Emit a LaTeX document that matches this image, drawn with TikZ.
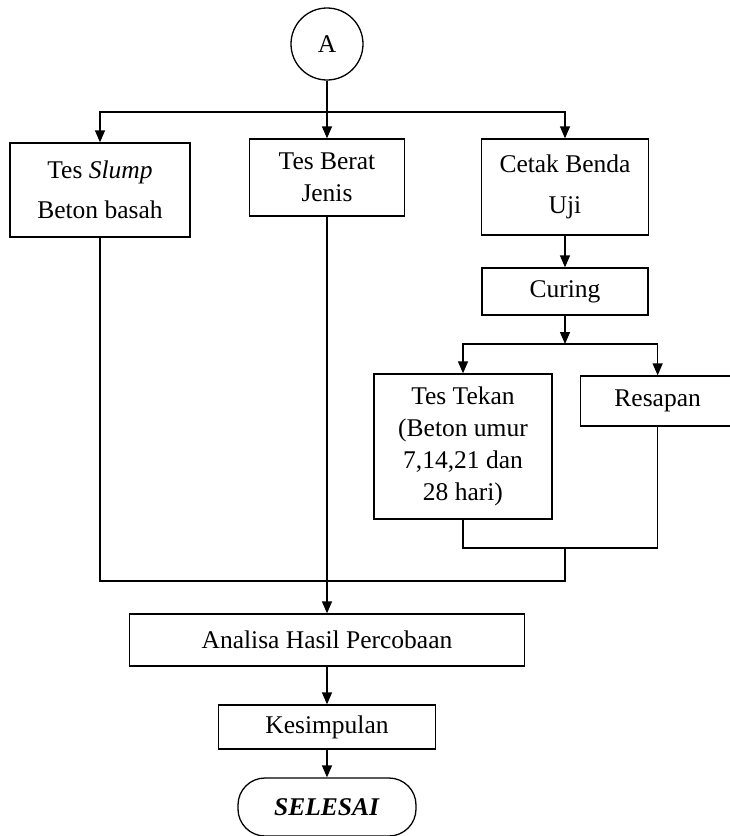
\documentclass[tikz,border=0pt]{standalone}
\usepackage{fontspec}
\setmainfont{Liberation Serif}
\usetikzlibrary{arrows.meta}
\begin{document}
\begin{tikzpicture}[x=1pt,y=-1pt,
  every node/.style={font=\fontsize{25.5}{32}\selectfont},
  box/.style={draw,line width=1.3pt,rectangle,inner sep=0pt,align=center},
  conn/.style={line width=1.3pt},
  arr/.style={conn,-{Triangle[length=12pt,width=10pt]}}]
\useasboundingbox (0,0) rectangle (730,836);
\node[draw,circle,line width=1.3pt,minimum size=72pt,inner sep=0pt] (A) at (327,44) {A};
\node[box,minimum width=180pt,minimum height=94pt] (slump) at (100,190) {Tes \textit{Slump}\\[8pt]Beton basah};
\node[box,minimum width=155pt,minimum height=77pt] (berat) at (327,177.5) {Tes Berat\\Jenis};
\node[box,minimum width=167pt,minimum height=96pt] (cetak) at (565,187) {Cetak Benda\\[9pt]Uji};
\node[box,minimum width=166pt,minimum height=47pt] (curing) at (565,291.5) {Curing};
\node[box,minimum width=178pt,minimum height=145pt] (tekan) at (463,446.5) {Tes Tekan\\(Beton umur\\7,14,21 dan\\28 hari)};
\node[box,minimum width=154pt,minimum height=50pt,anchor=west] (resapan) at (580,401) {Resapan};
\node[box,minimum width=395pt,minimum height=52pt] (analisa) at (327,640) {Analisa Hasil Percobaan};
\node[box,minimum width=217pt,minimum height=44pt] (kesimpulan) at (327,727) {Kesimpulan};
\node[draw,line width=1.3pt,rounded corners=27pt,minimum width=178pt,minimum height=58pt,inner sep=0pt] (selesai) at (327,807) {\textbf{\textit{SELESAI}}};
\coordinate (top) at (327,112);
\draw[conn] (A) -- (top);
\draw[arr] (top) -| (slump.north);
\draw[arr] (top) -- (berat);
\draw[arr] (top) -| (cetak.north);
\draw[arr] (cetak) -- (curing);
\coordinate (mid) at (565,344);
\draw[arr] (curing) -- (mid);
\draw[arr] (mid) -| (resapan.north);
\draw[arr] (mid) -| (tekan.north);
\coordinate (j1) at (565,548);
\coordinate (j2) at (565,581);
\draw[conn] (tekan.south) |- (j1) -| (resapan.south);
\draw[conn] (j1) -- (j2) -| (slump.south);
\draw[arr] (berat) -- (analisa);
\draw[arr] (analisa) -- (kesimpulan);
\draw[arr] (kesimpulan) -- (selesai);
\end{tikzpicture}
\end{document}
